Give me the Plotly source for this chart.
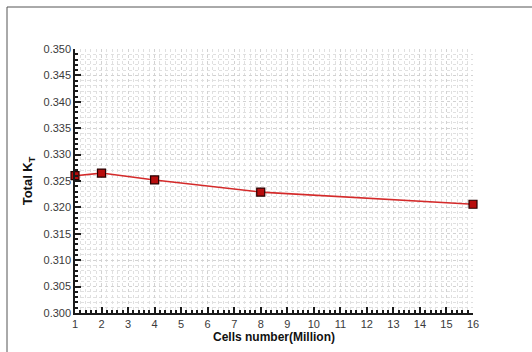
import plotly.graph_objects as go

# Mesh-independence study: total thrust coefficient vs. grid size
cells_million = [1, 2, 4, 8, 16]
total_kt = [0.3260, 0.3265, 0.3252, 0.3229, 0.3206]

W, H = 532, 352
L, R, T, B = 75, 59, 49, 39
pw, ph = W - L - R, H - T - B

fig = go.Figure()
fig.add_trace(go.Scatter(
    x=cells_million, y=total_kt,
    mode="lines+markers",
    line=dict(color="#d42a2a", width=1.6),
    marker=dict(symbol="square", size=8, color="#b80d0d",
                line=dict(color="#2a0000", width=1.2)),
    cliponaxis=False,
    showlegend=False,
))

major_grid = "#d2d2d2"
minor_grid = "#e0e0e0"
tick_font = dict(family="Liberation Sans, Arial, sans-serif", size=11, color="#3a3a3a")
title_font = dict(family="Liberation Sans, Arial, sans-serif", size=12, color="#111111")

fig.update_xaxes(
    range=[1, 16], dtick=1, tick0=1,
    showline=True, linecolor="#1a1a1a", linewidth=1.5,
    ticks="inside", ticklen=6, tickcolor="#1a1a1a", tickwidth=1.5,
    showgrid=True, gridcolor=major_grid, griddash="dot", gridwidth=1,
    zeroline=False, tickfont=tick_font,
    minor=dict(dtick=0.2, ticks="inside", ticklen=3, tickcolor="#1a1a1a",
               showgrid=True, gridcolor=minor_grid, griddash="dot", gridwidth=1),
    title=dict(text="<b>Cells number(Million)</b>", font=title_font, standoff=2),
)
fig.update_yaxes(
    range=[0.300, 0.350], dtick=0.005, tick0=0.300, tickformat=".3f",
    showline=True, linecolor="#1a1a1a", linewidth=1.5,
    ticks="inside", ticklen=6, tickcolor="#1a1a1a", tickwidth=1.5,
    showgrid=True, gridcolor=major_grid, griddash="dot", gridwidth=1,
    zeroline=False, tickfont=tick_font,
    minor=dict(dtick=0.001, ticks="inside", ticklen=3, tickcolor="#1a1a1a",
               showgrid=True, gridcolor=minor_grid, griddash="dot", gridwidth=1),
    title=dict(text="<b>Total K<sub>T</sub></b>",
               font=dict(title_font, size=13), standoff=8),
)

# outer frame lines along the top and left edges of the page
fx = (7 - L) / pw
fy = 1 + (T - 7) / ph
fig.add_shape(type="line", xref="paper", yref="paper",
              x0=fx, x1=(W - L) / pw + 0.01, y0=fy, y1=fy,
              line=dict(color="#555555", width=1))
fig.add_shape(type="line", xref="paper", yref="paper",
              x0=fx, x1=fx, y0=fy, y1=-(B) / ph - 0.01,
              line=dict(color="#555555", width=1))

fig.update_layout(
    width=W, height=H,
    margin=dict(l=L, r=R, t=T, b=B),
    paper_bgcolor="white", plot_bgcolor="white",
)

fig.write_html("out.html")
